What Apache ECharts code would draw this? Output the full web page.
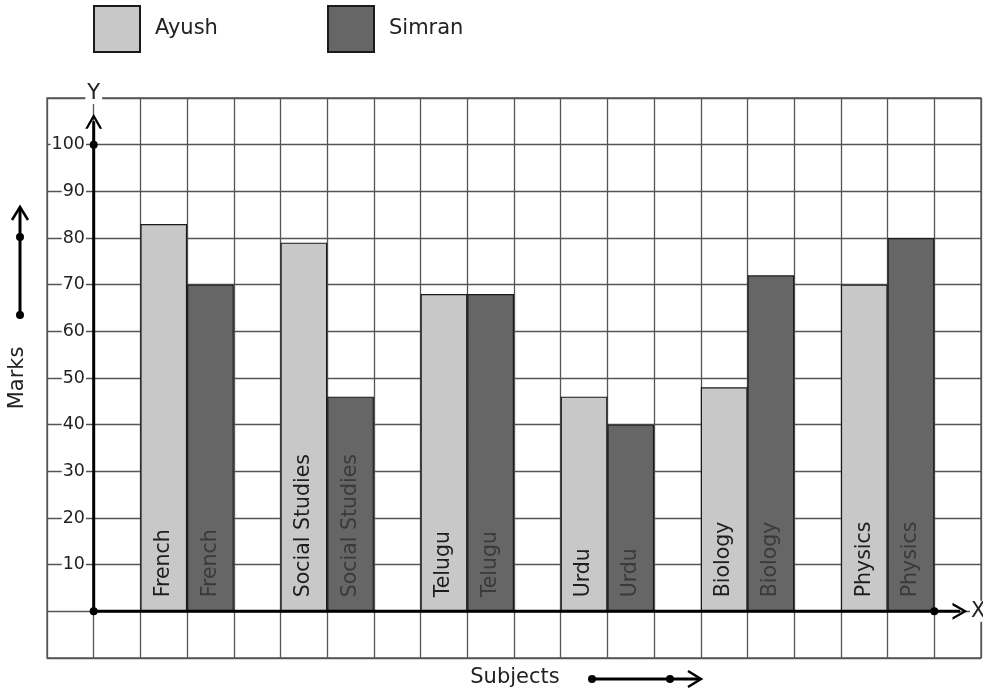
<!DOCTYPE html>
<html>
<head>
<meta charset="utf-8">
<script src="https://cdn.jsdelivr.net/npm/echarts@6/dist/echarts.min.js"></script>
<style>
html,body{margin:0;padding:0;background:#fff;}
#c{width:983px;height:695px;}
</style>
</head>
<body>
<div id="c"></div>
<script>
const subjects = ['French', 'Social Studies', 'Telugu', 'Urdu', 'Biology', 'Physics'];
const ayush = [83, 79, 68, 46, 48, 70];
const simran = [70, 46, 68, 40, 72, 80];
const yTickLabels = ['10', '20', '30', '40', '50', '60', '70', '80', '90', '100'];
const seriesNames = ['Ayush', 'Simran'];

const FONT = 'DejaVu Sans';
const GRID = {left: 47, top: 98, width: 934, height: 560};
const X_MIN = -1, X_MAX = 19, Y_MIN = -10, Y_MAX = 110;
const cellPx = GRID.width / (X_MAX - X_MIN);

// subject i occupies cells starting at 1 + 3*i (Ayush), next cell (Simran)
const ayushData = ayush.map((v, i) => [1.5 + 3 * i, v]);
const simranData = simran.map((v, i) => [2.5 + 3 * i, v]);

const chevronUp = 'path://M0,14 L8,0 L16,14 L13.6,14 L8,4.2 L2.4,14 Z';

function barSeries(name, data, fill, labelColor) {
  return {
    name: name,
    type: 'bar',
    data: data,
    barWidth: cellPx,
    barGap: '-100%',
    itemStyle: {color: fill, borderColor: '#1a1a1a', borderWidth: 1.2},
    label: {
      show: true,
      position: 'insideBottom',
      distance: 14,
      rotate: 90,
      align: 'left',
      verticalAlign: 'middle',
      fontFamily: FONT,
      fontSize: 20.5,
      color: labelColor,
      formatter: p => subjects[p.dataIndex]
    },
    z: 3
  };
}

const chart = echarts.init(document.getElementById('c'), null, {renderer: 'canvas'});
chart.setOption({
  animation: false,
  backgroundColor: '#fff',
  textStyle: {fontFamily: FONT},
  grid: Object.assign({show: true, borderColor: '#555', borderWidth: 1.3, backgroundColor: 'transparent',
    containLabel: false, outerBoundsMode: 'none'}, GRID),
  legend: [
    {
      data: [{name: seriesNames[0], icon: 'rect'}],
      left: 93, top: 5, padding: 0, itemWidth: 46, itemHeight: 46,
      textStyle: {fontFamily: FONT, fontSize: 21, color: '#222', padding: [0, 0, 0, 10]}
    },
    {
      data: [{name: seriesNames[1], icon: 'rect'}],
      left: 327, top: 5, padding: 0, itemWidth: 46, itemHeight: 46,
      textStyle: {fontFamily: FONT, fontSize: 21, color: '#222', padding: [0, 0, 0, 10]}
    }
  ],
  xAxis: {
    type: 'value', min: X_MIN, max: X_MAX, interval: 1,
    axisLine: {show: false, onZero: true},
    axisTick: {show: false},
    axisLabel: {show: false},
    splitLine: {show: true, lineStyle: {color: '#555', width: 1.3}},
    name: 'X', nameLocation: 'end', nameGap: -11,
    nameTextStyle: {fontFamily: FONT, fontSize: 21, color: '#222', backgroundColor: '#fff', padding: [0, 1, 0, 1]}
  },
  yAxis: {
    type: 'value', min: Y_MIN, max: Y_MAX, interval: 10,
    axisLine: {show: false, onZero: true},
    axisTick: {show: false},
    axisLabel: {
      show: true, margin: -39, fontFamily: FONT, fontSize: 17.5, color: '#222',
      backgroundColor: '#fff', padding: [0, 1, 0, 1],
      formatter: v => {
        const s = String(v);
        return yTickLabels.indexOf(s) >= 0 ? s : '';
      }
    },
    splitLine: {show: true, lineStyle: {color: '#555', width: 1.3}},
    name: 'Y', nameLocation: 'end', nameGap: -6, nameTextStyle: {
      fontFamily: FONT, fontSize: 21, color: '#222', backgroundColor: '#fff', padding: [0, 2, 0, 2],
      align: 'center'
    }
  },
  series: [
    barSeries(seriesNames[0], ayushData, '#c8c8c8', '#1e1e1e'),
    barSeries(seriesNames[1], simranData, '#666666', '#3a3a3a'),
    {
      type: 'line', silent: true, z: 5,
      lineStyle: {color: '#000', width: 3},
      itemStyle: {color: '#000'},
      data: [
        {value: [0, 0], symbol: 'circle', symbolSize: 8},
        {value: [0, 100], symbol: 'circle', symbolSize: 8},
        {value: [0, 105], symbol: chevronUp, symbolSize: [17, 15]}
      ]
    },
    {
      type: 'line', silent: true, z: 5,
      lineStyle: {color: '#000', width: 3},
      itemStyle: {color: '#000'},
      data: [
        {value: [0, 0], symbol: 'none'},
        {value: [18, 0], symbol: 'circle', symbolSize: 8},
        {value: [18.55, 0], symbol: chevronUp, symbolSize: [17, 15], symbolRotate: -90}
      ]
    }
  ],
  graphic: [
    {
      type: 'text', x: 18, y: 378, rotation: Math.PI / 2,
      style: {text: 'Marks', fontFamily: FONT, fontSize: 21, fill: '#222', align: 'center', verticalAlign: 'middle'}
    },
    {type: 'line', shape: {x1: 20, y1: 315, x2: 20, y2: 208}, style: {stroke: '#000', lineWidth: 3}},
    {type: 'circle', shape: {cx: 20, cy: 315, r: 4}, style: {fill: '#000'}},
    {type: 'circle', shape: {cx: 20, cy: 237, r: 4}, style: {fill: '#000'}},
    {type: 'polyline', shape: {points: [[12, 220], [20, 207], [28, 220]]}, style: {stroke: '#000', lineWidth: 2.5, fill: null}},
    {
      type: 'text', x: 515, y: 678,
      style: {text: 'Subjects', fontFamily: FONT, fontSize: 21, fill: '#222', align: 'center', verticalAlign: 'middle'}
    },
    {type: 'line', shape: {x1: 592, y1: 679, x2: 699, y2: 679}, style: {stroke: '#000', lineWidth: 3}},
    {type: 'circle', shape: {cx: 592, cy: 679, r: 4}, style: {fill: '#000'}},
    {type: 'circle', shape: {cx: 670, cy: 679, r: 4}, style: {fill: '#000'}},
    {type: 'polyline', shape: {points: [[688, 671], [701, 679], [688, 687]]}, style: {stroke: '#000', lineWidth: 2.5, fill: null}}
  ]
});
</script>
</body>
</html>
